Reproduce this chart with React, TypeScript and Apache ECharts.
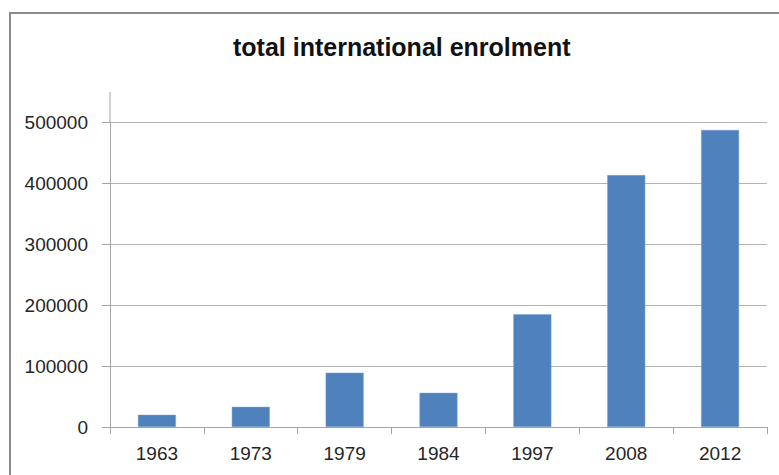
import React, { useEffect, useRef } from "react";
import * as echarts from "echarts";

const categories = ["1963", "1973", "1979", "1984", "1997", "2008", "2012"];
const enrolment = [20000, 33000, 89000, 56000, 185000, 413000, 487000];
const yTicks = [0, 100000, 200000, 300000, 400000, 500000];

export default function App() {
  const ref = useRef<HTMLDivElement>(null);
  useEffect(() => {
    if (!ref.current) return;
    const chart = echarts.init(ref.current, undefined, { renderer: "svg" });
    const font = "'Liberation Sans', Arial, sans-serif";
    chart.setOption({
      animation: false,
      backgroundColor: "#ffffff",
      title: {
        text: "total international enrolment",
        left: 228,
        top: 29,
        textStyle: { fontFamily: font, fontSize: 25, fontWeight: "bold", color: "#111" },
      },
      grid: { left: 110, right: 12, top: 122, bottom: 48 },
      xAxis: {
        type: "category",
        data: categories,
        axisLine: { lineStyle: { color: "#a6a6a6", width: 1 } },
        axisTick: { show: true, length: 7, alignWithLabel: false, lineStyle: { color: "#a6a6a6" } },
        axisLabel: { fontFamily: font, fontSize: 19, color: "#262626", margin: 17 },
      },
      yAxis: {
        type: "value",
        min: yTicks[0],
        max: yTicks[yTicks.length - 1],
        interval: yTicks[1] - yTicks[0],
        axisLine: { show: true, lineStyle: { color: "#a6a6a6", width: 1 } },
        axisTick: { show: true, length: 8, lineStyle: { color: "#a6a6a6" } },
        axisLabel: {
          fontFamily: font,
          fontSize: 19,
          color: "#262626",
          margin: 22,
          formatter: (v: number) => String(v),
        },
        splitLine: { show: true, lineStyle: { color: "#b3b3b3", width: 1 } },
      },
      series: [
        {
          type: "bar",
          data: enrolment,
          barWidth: 38,
          itemStyle: { color: "#4F81BD", borderColor: "#7ba3d6", borderWidth: 0.5 },
        },
      ],
      graphic: [
        {
          type: "line",
          shape: { x1: 110, y1: 92, x2: 110, y2: 122 },
          style: { stroke: "#a6a6a6", lineWidth: 1 },
          silent: true,
        },
        {
          type: "rect",
          shape: { x: 10, y: 13, width: 800, height: 500 },
          style: { fill: "none", stroke: "#8c8c8c", lineWidth: 2 },
          silent: true,
        },
      ],
    });
    return () => chart.dispose();
  }, []);
  return <div ref={ref} style={{ width: 779, height: 475, position: "absolute", left: 0, top: 0 }} />;
}
